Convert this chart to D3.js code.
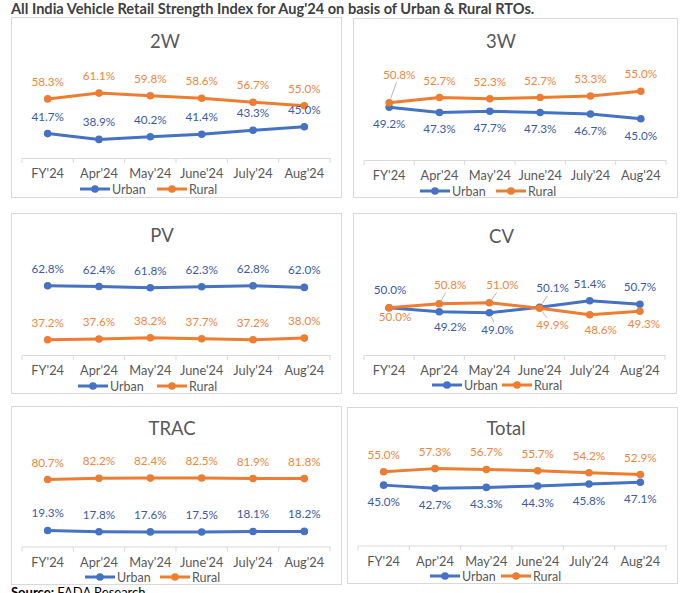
<!DOCTYPE html>
<html><head><meta charset="utf-8">
<script src="https://cdn.jsdelivr.net/npm/d3@7"></script>
<style>
body{margin:0;background:#fff}
svg{display:block}
text{font-family:Lato,"Open Sans",sans-serif}
</style>
</head><body>
<svg id="c" width="700" height="593"></svg>
<script>
// ---------- DATA ----------
const categories = ["FY'24","Apr'24","May'24","June'24","July'24","Aug'24"];
const seriesNames = ["Urban","Rural"];
const segments = ["2W","3W","PV","CV","TRAC","Total"];

const urban2W   = [41.7, 38.9, 40.2, 41.4, 43.3, 45.0];
const rural2W   = [58.3, 61.1, 59.8, 58.6, 56.7, 55.0];
const urban3W   = [49.2, 47.3, 47.7, 47.3, 46.7, 45.0];
const rural3W   = [50.8, 52.7, 52.3, 52.7, 53.3, 55.0];
const urbanPV   = [62.8, 62.4, 61.8, 62.3, 62.8, 62.0];
const ruralPV   = [37.2, 37.6, 38.2, 37.7, 37.2, 38.0];
const urbanCV   = [50.0, 49.2, 49.0, 50.1, 51.4, 50.7];
const ruralCV   = [50.0, 50.8, 51.0, 49.9, 48.6, 49.3];
const urbanTRAC = [19.3, 17.8, 17.6, 17.5, 18.1, 18.2];
const ruralTRAC = [80.7, 82.2, 82.4, 82.5, 81.9, 81.8];
const urbanTotal= [45.0, 42.7, 43.3, 44.3, 45.8, 47.1];
const ruralTotal= [55.0, 57.3, 56.7, 55.7, 54.2, 52.9];

// value-axis ranges (hidden axes)
const axisMin = [30, 30, 30, 40.5, 0, 0];
const axisMax = [70, 60, 70, 57.5, 100, 60];

const mainTitle = "All India Vehicle Retail Strength Index for Aug'24 on basis of Urban & Rural RTOs.";
const sourceBold = "Source:";
const sourceText = " FADA Research";

// ---------- LAYOUT / STYLE ----------
const urbanData = [urban2W, urban3W, urbanPV, urbanCV, urbanTRAC, urbanTotal];
const ruralData = [rural2W, rural3W, ruralPV, ruralCV, ruralTRAC, ruralTotal];

const COLORS = {Urban:"#4472C4", Rural:"#ED7D31"};
const LABEL_COLORS = {Urban:"#3B5BA5", Rural:"#EE8640"};

const panels = [
  {x:11,  y:17,  w:330, h:180, pt:57.5, pb:141,   tdx:-11, tdy:31, lgx:69, lgy:172, lgGap:77, pos:{Urban:"above", Rural:"above"}},
  {x:353, y:18,  w:324, h:179, pt:59.5, pb:142,   tdx:-14, tdy:30, lgx:67, lgy:173, lgGap:76, pos:{Urban:"below", Rural:"above"}},
  {x:11,  y:213, w:330, h:180, pt:57.5, pb:142,   tdx:-14, tdy:29, lgx:67, lgy:173, lgGap:79, pos:{Urban:"above", Rural:"above"}},
  {x:353, y:213, w:323, h:180, pt:57.5, pb:142,   tdx:-13, tdy:30, lgx:79, lgy:172, lgGap:70, pos:{Urban:"above", Rural:"below"}},
  {x:11,  y:406, w:330, h:178, pt:57.5, pb:140.5, tdx:-4,  tdy:29, lgx:74, lgy:171, lgGap:75, pos:{Urban:"above", Rural:"above"}},
  {x:347, y:407, w:330, h:176, pt:58,   pb:138.5, tdx:-6,  tdy:28, lgx:83, lgy:169, lgGap:71, pos:{Urban:"below", Rural:"above"}}
];
// custom label offsets [dx, dy(baseline), leader]
const customLabels = {
  "1-Rural-0": [10, -24, true],
  "3-Urban-0": [1, -14, false],
  "3-Urban-1": [11, 19, false],
  "3-Urban-2": [8, 21, true],
  "3-Urban-3": [13, -15, true],
  "3-Rural-0": [6, 13, false],
  "3-Rural-1": [11, -15, true],
  "3-Rural-2": [13, -14, true],
  "3-Rural-3": [13, 21, true],
  "3-Rural-4": [11, 19, false],
  "3-Rural-5": [4, 17, false]
};

const svg = d3.select("#c");
svg.append("rect").attr("width",700).attr("height",593).attr("fill","#fff");

svg.append("text").attr("x",11).attr("y",13.5)
  .attr("font-size",14.6).attr("font-weight","bold").attr("fill","#404040")
  .text(mainTitle);

panels.forEach((p, pi) => {
  const g = svg.append("g").attr("transform", `translate(${p.x},${p.y})`);
  g.append("rect").attr("x",0.5).attr("y",0.5).attr("width",p.w).attr("height",p.h)
    .attr("fill","#fff").attr("stroke","#d9d9d9").attr("stroke-width",1);

  g.append("text").attr("x", p.w/2 + p.tdx).attr("y", p.tdy)
    .attr("text-anchor","middle").attr("font-size",18.5).attr("fill","#595959")
    .text(segments[pi]);

  const x = d3.scaleBand().domain(categories).range([11, p.w-11]);
  const y = d3.scaleLinear().domain([axisMin[pi], axisMax[pi]]).range([p.pb, p.pt]);
  const cx = c => x(c) + x.bandwidth()/2;

  // category axis
  const ax = g.append("g").attr("transform", `translate(0,${p.pb})`)
    .call(d3.axisBottom(x).tickSize(0).tickSizeOuter(0));
  ax.select(".domain").attr("stroke","#d9d9d9").attr("stroke-width",1);
  ax.selectAll("text").attr("y",20).attr("dy",0).attr("font-size",12.8)
    .attr("fill","#595959").attr("font-family","Lato,sans-serif");
  const bounds = categories.map(c => x(c)).concat([x.range()[1]]);
  ax.selectAll("line.bound").data(bounds).enter().append("line").attr("class","bound")
    .attr("x1",d=>d).attr("x2",d=>d).attr("y1",0).attr("y2",5)
    .attr("stroke","#d9d9d9").attr("stroke-width",1);

  const series = [{name:"Urban", values:urbanData[pi]}, {name:"Rural", values:ruralData[pi]}];
  const line = d3.line().x((d,i)=>cx(categories[i])).y(d=>y(d));

  series.forEach(s => {
    g.append("path").attr("d", line(s.values)).attr("fill","none")
      .attr("stroke", COLORS[s.name]).attr("stroke-width",3).attr("stroke-linejoin","round");
    g.selectAll(null).data(s.values).enter().append("circle")
      .attr("cx",(d,i)=>cx(categories[i])).attr("cy",d=>y(d)).attr("r",3.8)
      .attr("fill", COLORS[s.name]);
  });

  // data labels
  series.forEach(s => {
    s.values.forEach((v,i) => {
      const px = cx(categories[i]), py = y(v);
      const key = `${pi}-${s.name}-${i}`;
      let dx = 0, dy = p.pos[s.name] === "above" ? -13 : 21, leader = false;
      if (customLabels[key]) [dx, dy, leader] = customLabels[key];
      const lx = px + dx, ly = py + dy;
      if (leader) {
        const bw = 34, bh = 11;
        const bcx = lx, bcy = ly - 4;
        const vx = px - bcx, vy = py - bcy;
        const tx = Math.abs(vx) > 0 ? (bw/2 + 2) / Math.abs(vx) : Infinity;
        const ty = Math.abs(vy) > 0 ? (bh/2 + 2) / Math.abs(vy) : Infinity;
        const t = Math.min(tx, ty);
        const sx = bcx + vx*t, sy = bcy + vy*t;
        const len = Math.hypot(px - sx, py - sy);
        const ex = px - (px - sx) * 4.5 / len, ey = py - (py - sy) * 4.5 / len;
        g.append("line").attr("x1",sx).attr("y1",sy).attr("x2",ex).attr("y2",ey)
          .attr("stroke","#a6a6a6").attr("stroke-width",0.8);
      }
      g.append("text").attr("x",lx).attr("y",ly).attr("text-anchor","middle")
        .attr("font-size",11.7).attr("fill",LABEL_COLORS[s.name])
        .text(v.toFixed(1) + "%");
    });
  });

  // legend
  seriesNames.forEach((n, k) => {
    const lx = p.lgx + k*p.lgGap, ly = p.lgy;
    g.append("line").attr("x1",lx).attr("x2",lx+30).attr("y1",ly).attr("y2",ly)
      .attr("stroke",COLORS[n]).attr("stroke-width",3);
    g.append("circle").attr("cx",lx+15).attr("cy",ly).attr("r",3.8).attr("fill",COLORS[n]);
    g.append("text").attr("x",lx+32).attr("y",ly+4.5).attr("font-size",12.5)
      .attr("fill","#595959").text(n);
  });
});

const src = svg.append("text").attr("x",11).attr("y",597)
  .attr("font-family","'Liberation Serif','Times New Roman',serif").attr("font-size",13).attr("fill","#000");
src.append("tspan").attr("font-weight","bold").text(sourceBold);
src.append("tspan").text(sourceText);
</script>
</body></html>
